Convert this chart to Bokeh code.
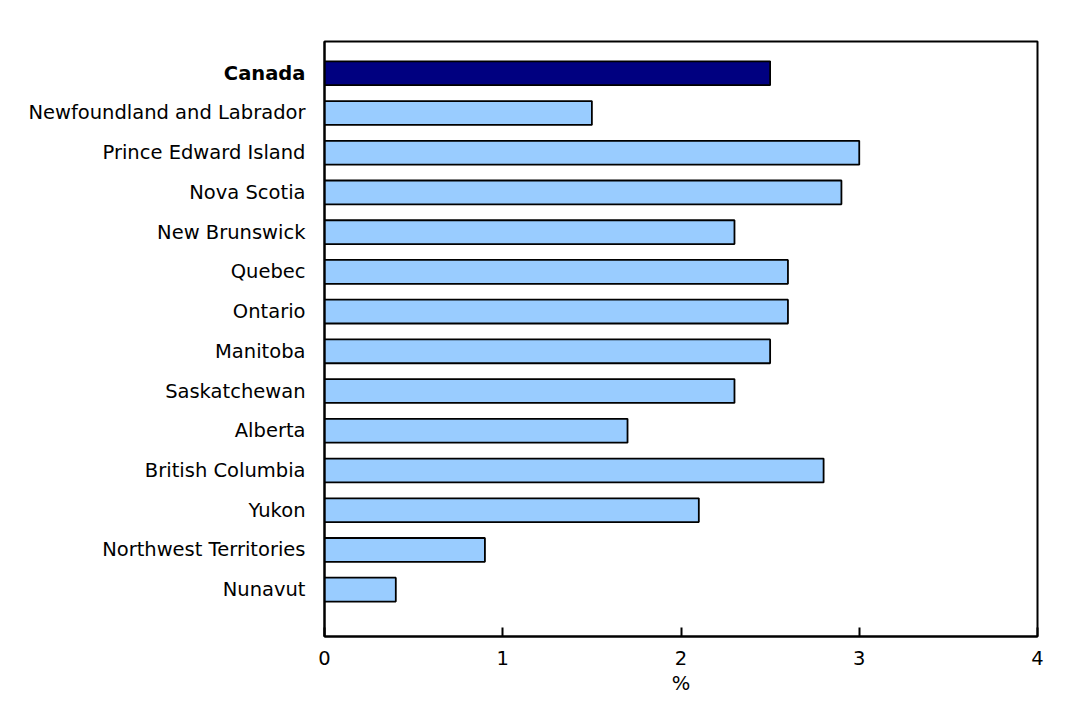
from bokeh.plotting import figure
from bokeh.models import Range1d, FixedTicker, ColumnDataSource, LinearAxis
from bokeh.embed import file_html
from bokeh.resources import INLINE

regions = ["Canada", "Newfoundland and Labrador", "Prince Edward Island", "Nova Scotia",
           "New Brunswick", "Quebec", "Ontario", "Manitoba", "Saskatchewan", "Alberta",
           "British Columbia", "Yukon", "Northwest Territories", "Nunavut"]
values = [2.5, 1.5, 3.0, 2.9, 2.3, 2.6, 2.6, 2.5, 2.3, 1.7, 2.8, 2.1, 0.9, 0.4]
x_ticks = [0, 1, 2, 3, 4]
x_label = "%"

n = len(regions)
ypos = [n - 1 - i for i in range(n)]
colors = ["#000080" if r == "Canada" else "#99CCFF" for r in regions]
src = ColumnDataSource(dict(y=ypos, v=values, c=colors, name=regions))

FONT = "DejaVu Sans"
FS = "19.5px"

p = figure(width=1070, height=702, output_backend="svg", toolbar_location=None,
           x_range=Range1d(0, 4), y_range=Range1d(-1.18, n - 1 + 0.8),
           min_border_left=324, min_border_right=33, min_border_top=41, min_border_bottom=66)

p.hbar(y="y", right="v", left=0, height=0.6, fill_color="c", line_color="black",
       line_width=1.8, source=src)

p.grid.visible = False
p.outline_line_color = "black"
p.outline_line_width = 2
p.background_fill_color = "white"
p.border_fill_color = "white"

# x axis
p.xaxis.ticker = FixedTicker(ticks=x_ticks)
p.xaxis.minor_tick_line_color = None
p.xaxis.major_tick_in = 9
p.xaxis.major_tick_out = 0
p.xaxis.major_tick_line_width = 2
p.xaxis.major_tick_line_color = "black"
p.xaxis.axis_line_width = 2
p.xaxis.axis_line_color = "black"
p.xaxis.major_label_standoff = 14
p.xaxis.major_label_text_font = FONT
p.xaxis.major_label_text_font_size = FS
p.xaxis.major_label_text_color = "black"
p.xaxis.axis_label = x_label
p.xaxis.axis_label_text_font = FONT
p.xaxis.axis_label_text_font_size = FS
p.xaxis.axis_label_text_font_style = "normal"
p.xaxis.axis_label_text_color = "black"
p.xaxis.axis_label_standoff = 4

# y axis (all regions except the bold one)
canada_y = ypos[regions.index("Canada")]
p.yaxis.ticker = FixedTicker(ticks=[yy for yy in ypos if yy != canada_y])
p.yaxis.major_label_overrides = {yy: r for yy, r in zip(ypos, regions)}
p.yaxis.major_tick_in = 0
p.yaxis.major_tick_out = 0
p.yaxis.minor_tick_line_color = None
p.yaxis.axis_line_width = 2
p.yaxis.axis_line_color = "black"
p.yaxis.major_label_standoff = 19
p.yaxis.major_label_text_font = FONT
p.yaxis.major_label_text_font_size = FS
p.yaxis.major_label_text_color = "black"

# bold label for Canada on an outer axis, pulled back next to the frame
bold_axis = LinearAxis(ticker=FixedTicker(ticks=[canada_y]),
                       major_label_overrides={canada_y: "Canada"},
                       major_tick_in=0, major_tick_out=0, minor_tick_line_color=None,
                       axis_line_color=None, major_label_standoff=-280,
                       major_label_text_font=FONT, major_label_text_font_size=FS,
                       major_label_text_font_style="bold", major_label_text_color="black")
p.add_layout(bold_axis, "left")

open("out.html", "w").write(file_html(p, INLINE))
